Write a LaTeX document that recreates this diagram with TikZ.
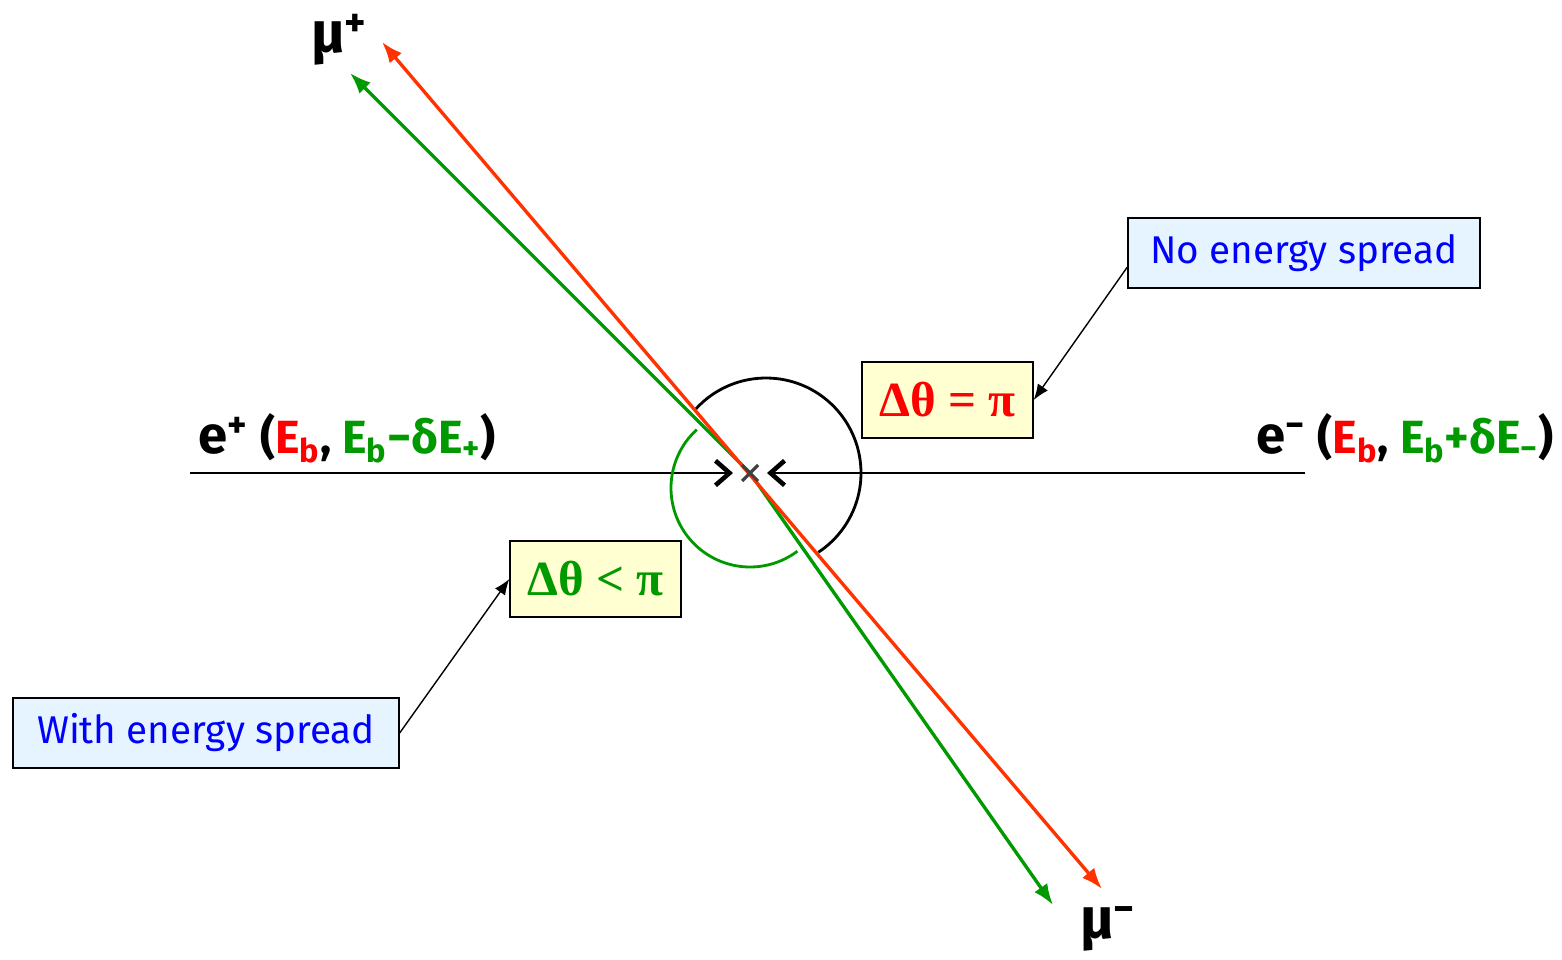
\documentclass[tikz,border=0pt]{standalone}
\usepackage{fontspec}
\setmainfont{Fira Sans}
\newfontfamily\boxserif{Liberation Serif}
\usetikzlibrary{arrows.meta}

\definecolor{trackred}{HTML}{FF3300}
\definecolor{labelred}{HTML}{FF0000}
\definecolor{trackgreen}{HTML}{009900}
\definecolor{noteblue}{HTML}{0000FF}
\definecolor{fillyellow}{HTML}{FFFFD2}
\definecolor{fillblue}{HTML}{E6F4FF}

\tikzset{
  beam/.style={line width=0.8pt, -{Straight Barb[length=8pt,width=14pt,line width=2.6pt]}},
  track/.style={line width=1.9pt, {Latex[length=12pt,width=9pt]}-{Latex[length=12pt,width=9pt]}},
  pointer/.style={line width=0.8pt, -{Latex[length=9pt,width=7pt]}},
  anglebox/.style={draw, line width=0.8pt, fill=fillyellow, minimum width=3.42cm, minimum height=1.52cm,
    font=\boxserif\bfseries\fontsize{28}{32}\selectfont},
  notebox/.style={draw, line width=0.8pt, fill=fillblue, minimum height=1.4cm, text=noteblue,
    font=\fontsize{22}{26}\selectfont},
  particle/.style={anchor=base west, font=\bfseries\fontsize{30}{34}\selectfont}
}

\begin{document}
\begin{tikzpicture}[x=0.02cm, y=-0.02cm]
  \useasboundingbox (0,0) rectangle (1562,960);

  % Interaction point and track ends
  \coordinate (ip) at (750,473);
  \coordinate (redup) at (382,42);
  \coordinate (reddown) at (1102,889);
  \coordinate (greenup) at (350,73);
  \coordinate (greendown) at (1053,905);

  % Beams
  \draw[beam] (190,473) -- (733,473);
  \draw[beam] (1305,473) -- (767,473);
  \node[particle] (epos) at (192,453) {e\textsuperscript{+} {\fontsize{26.5}{30}\selectfont(\textcolor{labelred}{E\textsubscript{b}}, \textcolor{trackgreen}{E\textsubscript{b}−δE\textsubscript{+}})}};
  \node[particle] (eneg) at (1250,453) {e\textsuperscript{−} {\fontsize{26.5}{30}\selectfont(\textcolor{labelred}{E\textsubscript{b}}, \textcolor{trackgreen}{E\textsubscript{b}+δE\textsubscript{−}})}};

  % Opening angles
  \draw[line width=1.6pt] (766,473) ++(-137.6:95) arc[start angle=-137.6, end angle=56.6, radius=95];
  \draw[trackgreen, line width=1.6pt] (750,488) ++(227.6:79) arc[start angle=227.6, end angle=53.1, radius=79];

  % Muon tracks
  \draw[track, trackgreen] (greenup) -- (ip) -- (greendown);
  \draw[track, trackred] (redup) -- (reddown);
  \draw[black!75, line width=1.8pt] (ip) ++(-8,-8) -- ++(16,16) (ip) ++(-8,8) -- ++(16,-16);
  \node[particle, font=\bfseries\fontsize{33}{38}\selectfont] (muplus) at (305,52) {μ\textsuperscript{+}};
  \node[particle, font=\bfseries\fontsize{33}{38}\selectfont] (muminus) at (1074,938) {μ\textsuperscript{−}};

  % Boxes
  \node[anglebox, text=labelred] (eqpi) at (947.5,400) {Δθ = π};
  \node[anglebox, text=trackgreen] (ltpi) at (595.5,579) {Δθ < π};
  \node[notebox, minimum width=7.04cm] (nospread) at (1304,253) {No energy spread};
  \node[notebox, minimum width=7.72cm] (withspread) at (206,733) {With energy spread};
  \draw[pointer] ([yshift=-8pt]nospread.west) -- (eqpi.east);
  \draw[pointer] (withspread.east) -- (ltpi.west);
\end{tikzpicture}
\end{document}
